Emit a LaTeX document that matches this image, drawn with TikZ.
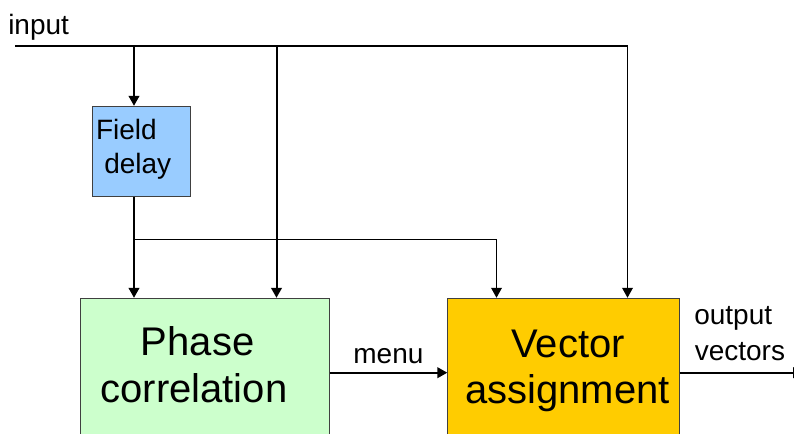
\documentclass[tikz,border=0pt]{standalone}
\usepackage{fontspec}
\setmainfont{Liberation Sans}
\usetikzlibrary{arrows.meta}
\definecolor{fdblue}{HTML}{99CCFF}
\definecolor{pcgreen}{HTML}{CCFFCC}
\definecolor{vayellow}{HTML}{FFCC00}
\definecolor{edge}{HTML}{404040}
\tikzset{
  block/.style={draw=edge, line width=0.6pt, rectangle, anchor=north west, inner sep=0pt},
  small/.style={font=\fontsize{21}{25}\selectfont, inner sep=0pt},
  big/.style={font=\fontsize{30}{36}\selectfont, inner sep=0pt},
  wire/.style={line width=1.5pt},
  thinwire/.style={line width=1.1pt},
  arr/.style={-{Triangle[length=7.5pt,width=8pt]}},
}
\begin{document}
\begin{tikzpicture}[x=0.75pt, y=-0.75pt]
\useasboundingbox (0,0) rectangle (794,434);

% blocks
\node[block, fill=fdblue, minimum width=73.5pt, minimum height=67.5pt] (fd) at (91.5,105.8) {};
\node[block, fill=pcgreen, minimum width=187.1pt, minimum height=130pt] (pc) at (79.5,297.8) {};
\node[block, fill=vayellow, minimum width=173.6pt, minimum height=130pt] (va) at (447.3,297.8) {};

% block texts
\node[small, anchor=base west] (fdt1) at (95.8,139.3) {Field};
\node[small, anchor=base west] (fdt2) at (104,174) {delay};
\node[big, anchor=base] (pct1) at (197.7,356) {Phase};
\node[big, anchor=base] (pct2) at (194,403) {correlation};
\node[big, anchor=base] (vat1) at (568,357.3) {Vector};
\node[big, anchor=base] (vat2) at (567.5,404) {assignment};

% labels
\node[small, anchor=base west] (inlbl) at (8,35) {input};
\node[small, anchor=base] (menulbl) at (388.4,363.3) {menu};
\node[small, anchor=base west] (outlbl1) at (694,324.5) {output};
\node[small, anchor=base west] (outlbl2) at (694.5,361) {vectors};

% junction points
\coordinate (inStart) at (15,46);
\coordinate (inEnd) at (627.5,46);
\coordinate (jfd) at (134,46);
\coordinate (jpc) at (276.5,46);
\coordinate (jdl) at (134,239.5);
\coordinate (jva) at (496.5,239.5);
\coordinate (outEnd) at (803,372.7);

% input bus and its branches
\draw[wire] (inStart) -- (inEnd);
\draw[wire, arr] (jfd) -- (fd.north -| jfd);
\draw[wire, arr] (jpc) -- (pc.north -| jpc);
\draw[thinwire, arr] (inEnd) -- (va.north -| inEnd);

% delayed field
\draw[wire, arr] (fd.south -| jfd) -- (pc.north -| jfd);
\draw[thinwire, arr] (jdl) -- (jva) -- (va.north -| jva);

% menu and output
\draw[wire, arr] (pc.east |- outEnd) -- (va.west |- outEnd);
\draw[wire, arr] (va.east |- outEnd) -- (outEnd);
\end{tikzpicture}
\end{document}
